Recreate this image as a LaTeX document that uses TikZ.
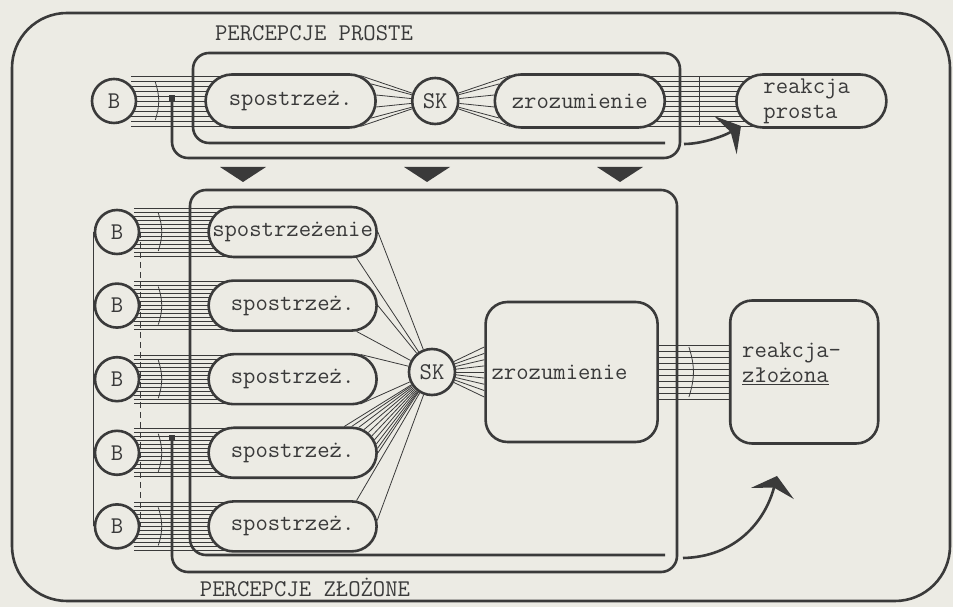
\documentclass[tikz,border=0pt]{standalone}
\usepackage{fontspec}
\usepackage{xcolor}
\usepackage{tikz}
\usetikzlibrary{positioning,calc,backgrounds,shapes.misc,arrows.meta}

\definecolor{ink}{RGB}{58,58,58}
\definecolor{paper}{RGB}{236,235,228}

\tikzset{
        outline/.style={draw=ink, line width=2.6pt},
        bnode/.style={circle, outline, fill=paper, minimum size=44pt, inner sep=0pt},
        sknode/.style={circle, outline, fill=paper, minimum size=46pt, inner sep=0pt},
        stad/.style={rounded rectangle, outline, fill=paper, minimum width=#1, minimum height=50pt, inner sep=0pt,
                execute at begin node={\hbox to 0pt\bgroup\hss}, execute at end node={\hss\egroup}},
        stad/.default=168pt,
        box/.style={rectangle, rounded corners=22pt, outline, fill=paper, inner sep=0pt},
        hatch/.style={draw=ink, line width=0.9pt},
        fan/.style={draw=ink, line width=0.8pt},
        frame/.style={draw=ink, line width=2.6pt, rounded corners=16pt},
        dotsq/.style={rectangle, fill=ink, minimum size=6pt, inner sep=0pt},
        reflex/.style={draw=ink, line width=2.6pt, -{Stealth[length=18pt,width=44pt,inset=6pt]}}
}

\begin{document}
\begin{tikzpicture}[x=1pt, y=1pt, font=\ttfamily\fontsize{24pt}{25pt}\selectfont, text=ink]
        \begin{scope}[on background layer]
                \fill[paper] (0,0) rectangle (953,607);
        \end{scope}
        \useasboundingbox (0,0) rectangle (953,607);

        \draw[outline, rounded corners=55pt] (12,6) rectangle (950,594);
        \node[anchor=base] (tprost) at (314,566) {PERCEPCJE PROSTE};
        \node[anchor=base] (tzloz) at (305,10) {PERCEPCJE ZŁOŻONE};

        \node[bnode] (b0) at (114,506) {B};
        \node[stad=170pt] (sp0) [minimum height=53pt, right = 67pt of b0] {spostrzeż.};
        \node[sknode] (sk0) [right = 34pt of sp0] {SK};
        \node[stad=170pt] (zr0) [minimum height=53pt, right = 34pt of sk0] {zrozumienie};
        \node[rounded rectangle, outline, fill=paper] (rp) [minimum width=150pt, minimum height=53pt, inner sep=0pt,
                text width=96pt, align=left, right = 69pt of zr0] {reakcja\\prosta};

        \node[bnode] (b1) at (117,375) {B};
        \foreach \i [remember=\i as \j (initially 1)] in {2,...,5}
                \node[bnode] (b\i) [below = 27pt of b\j] {B};
        \node[stad] (s1) [right = 67pt of b1] {spostrzeżenie};
        \foreach \i in {2,...,5}
                \node[stad] (s\i) [right = 67pt of b\i] {spostrzeż.};

        \node[sknode] (sk1) at (432,235) {SK};
        \node[box] (zb) [minimum width=172pt, minimum height=140pt, text width=160pt, align=left,
                right = 28pt of sk1] {zrozumienie};
        \node[box] (rz) [minimum width=148pt, minimum height=143pt, text width=124pt, align=left,
                text height=15pt, text depth=43pt, right = 70pt of zb] {reakcja-\\\underline{złożona}};

        \begin{scope}[on background layer]
                \foreach \d in {-25,-20,...,25} {
                        \draw[hatch] ($(b0.east)+(-6,\d)$) -- ($(sp0.center)+(0,\d)$);
                        \draw[hatch] ($(zr0.center)+(0,\d)$) -- ($(rp.center)+(0,\d)$);
                }
                \foreach \i in {1,...,5}
                        \foreach \d in {-24,-20,...,24}
                                \draw[hatch] ($(b\i.east)+(-6,\d)$) -- ($(s\i.center)+(0,\d)$);
                \foreach \d in {-27,-21,...,27}
                        \draw[hatch] ($(zb.east)+(-4,\d)$) -- ($(rz.west)+(4,\d)$);
        \end{scope}

        \foreach \a in {-20,-12,...,20}
                \path (sp0.\a) edge[fan] (sk0);
        \foreach \a in {160,168,...,200}
                \path (sk0) edge[fan] (zr0.\a);
        \foreach \a in {164,168,...,196}
                \path (sk1) edge[fan] (zb.\a);
        \foreach \a in {0,3,...,27}
                \path (sk1) edge[fan] (s4.\a);
        \foreach \n/\a in {1/0,1/-22,2/0,2/-22,3/20,3/-20,5/22,5/4}
                \path (sk1) edge[fan] (s\n.\a);

        \foreach \n in {0,...,5}
                \draw[fan] ($(b\n.east)+(18,19)$) to[bend left=18] ($(b\n.east)+(18,-19)$);
        \draw[fan] ($(zb.east)+(30,25)$) to[bend left=18] ($(zb.east)+(30,-25)$);
        \draw[fan] ($(zr0.east)+(33,24)$) -- ($(zr0.east)+(33,-24)$);
        \draw[fan] (b1.west) -- (b5.west);
        \draw[fan, dash pattern=on 6pt off 4pt] (b1.east) -- (b5.east);

        \node[dotsq] (d0) at (172,509) {};
        \node[dotsq] (d1) at (172,169) {};
        \draw[frame] (d0.center) -- (172,449) -- (680,449) -- (680,554) -- (193,554) -- (193,464) -- (665,464);
        \draw[frame] (d1.center) -- (172,35) -- (677,35) -- (677,417) -- (190,417) -- (190,52) -- (665,52);

        \coordinate (r0) at (684,463);
        \coordinate (r0t) at (741,481);
        \coordinate (r1) at (683,49);
        \coordinate (r1t) at (777,131);
        \draw[reflex] (r0) .. controls (702,463) and (724,471) .. (r0t);
        \draw[reflex] (r1) .. controls (735,50) and (765,85) .. (r1t);

        \foreach \x in {243,427,620}
                \fill[ink] (\x-23,440) -- (\x+23,440) -- (\x,425) -- cycle;
\end{tikzpicture}
\end{document}
